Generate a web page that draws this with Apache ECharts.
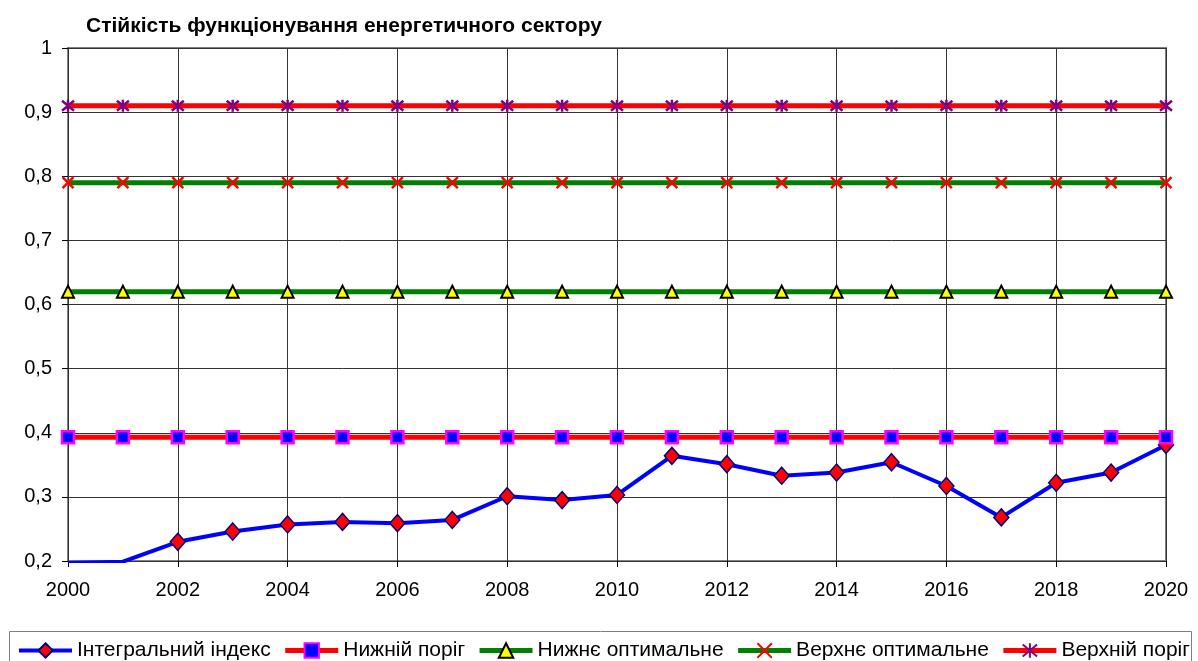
<!DOCTYPE html>
<html>
<head>
<meta charset="utf-8">
<script src="https://cdn.jsdelivr.net/npm/echarts@6/dist/echarts.min.js"></script>
<style>
  html, body { margin: 0; padding: 0; background: #fff; }
  #chart { width: 1198px; height: 661px; }
</style>
</head>
<body>
<div id="chart"></div>
<script>
// Years on the horizontal axis
const years = ['2000','2001','2002','2003','2004','2005','2006','2007','2008','2009','2010',
               '2011','2012','2013','2014','2015','2016','2017','2018','2019','2020'];

// Integral index of energy-sector resilience
const integralIndex = [0.197, 0.199, 0.230, 0.246, 0.257, 0.261, 0.259, 0.264, 0.301, 0.295, 0.303,
                       0.364, 0.351, 0.333, 0.338, 0.354, 0.317, 0.268, 0.322, 0.338, 0.381];
// first year that carries a marker on the index line
const indexMarkerFrom = 2;

// Threshold levels (constant across years)
const lowerThreshold = 0.393;
const lowerOptimal = 0.62;
const upperOptimal = 0.79;
const upperThreshold = 0.91;

const seriesNames = ['Інтегральний індекс', 'Нижній поріг', 'Нижнє оптимальне', 'Верхнє оптимальне', 'Верхній поріг'];
const titleText = 'Стійкість функціонування енергетичного сектору';

const FONT = '"Liberation Sans", Arial, sans-serif';
const flat = v => years.map(() => v);

const crossPath = 'path://M0,0L10,10M10,0L0,10';
const starPath = 'path://M0,0L10,10M10,0L0,10M5,-1L5,11';

const chart = echarts.init(document.getElementById('chart'), null, { renderer: 'canvas' });

chart.setOption({
  animation: false,
  backgroundColor: '#fff',
  textStyle: { fontFamily: FONT },
  title: {
    text: titleText,
    left: 86, top: 16, padding: 0,
    textStyle: { fontFamily: FONT, fontSize: 21, fontWeight: 'bold', color: '#000' }
  },
  grid: {
    left: 68, right: 32, top: 48, bottom: 100,
    show: true, borderColor: '#808080', borderWidth: 2
  },
  xAxis: {
    type: 'category',
    data: years,
    boundaryGap: false,
    axisLine: { lineStyle: { color: '#333', width: 1 } },
    axisTick: { show: true, interval: 1, length: 6, lineStyle: { color: '#000' } },
    axisLabel: { interval: 1, color: '#000', fontSize: 20, fontFamily: FONT, margin: 19 },
    splitLine: { show: true, interval: 1, lineStyle: { color: '#333', width: 1 } }
  },
  yAxis: {
    type: 'value',
    min: 0.2, max: 1, interval: 0.1,
    axisLine: { show: true, lineStyle: { color: '#333', width: 1 } },
    axisTick: { show: true, length: 6, lineStyle: { color: '#000' } },
    axisLabel: {
      color: '#000', fontSize: 20, fontFamily: FONT, margin: 16,
      formatter: v => (Math.abs(v - 1) < 1e-9 ? '1' : v.toFixed(1).replace('.', ','))
    },
    splitLine: { show: true, lineStyle: { color: '#333', width: 1 } }
  },
  legend: {
    left: 17, top: 640, width: 1180,
    itemWidth: 53, itemHeight: 18, itemGap: 12,
    padding: 0,
    lineStyle: { width: 'inherit' },
    textStyle: { fontFamily: FONT, fontSize: 21, color: '#000' },
    data: seriesNames
  },
  graphic: [{
    type: 'rect',
    shape: { x: 9.5, y: 631.5, width: 1182, height: 40 },
    style: { fill: 'none', stroke: '#7f7f7f', lineWidth: 1 },
    silent: true
  }],
  series: [
    {
      name: seriesNames[0],
      type: 'line',
      data: integralIndex.map((v, i) => (i < indexMarkerFrom ? { value: v, symbol: 'none' } : v)),
      symbol: 'diamond', symbolSize: [15, 17],
      lineStyle: { color: '#0000ff', width: 4 },
      itemStyle: { color: '#ff0000', borderColor: '#000080', borderWidth: 1.5 },
      z: 2
    },
    {
      name: seriesNames[1],
      type: 'line',
      data: flat(lowerThreshold),
      symbol: 'rect', symbolSize: 12,
      lineStyle: { color: '#ff0000', width: 5 },
      itemStyle: { color: '#0000ff', borderColor: '#ff00ff', borderWidth: 2.5 },
      z: 3
    },
    {
      name: seriesNames[2],
      type: 'line',
      data: flat(lowerOptimal),
      symbol: 'triangle', symbolSize: [12, 12],
      lineStyle: { color: '#008000', width: 5 },
      itemStyle: { color: '#ffff00', borderColor: '#000', borderWidth: 2 },
      z: 3
    },
    {
      name: seriesNames[3],
      type: 'line',
      data: flat(upperOptimal),
      symbol: crossPath, symbolSize: 11,
      lineStyle: { color: '#008000', width: 5 },
      itemStyle: { color: '#ff0000', borderColor: '#ff0000', borderWidth: 2.5 },
      z: 3
    },
    {
      name: seriesNames[4],
      type: 'line',
      data: flat(upperThreshold),
      symbol: starPath, symbolSize: 12,
      lineStyle: { color: '#ff0000', width: 5 },
      itemStyle: { color: '#800080', borderColor: '#800080', borderWidth: 2.5 },
      z: 3
    }
  ]
});
</script>
</body>
</html>
